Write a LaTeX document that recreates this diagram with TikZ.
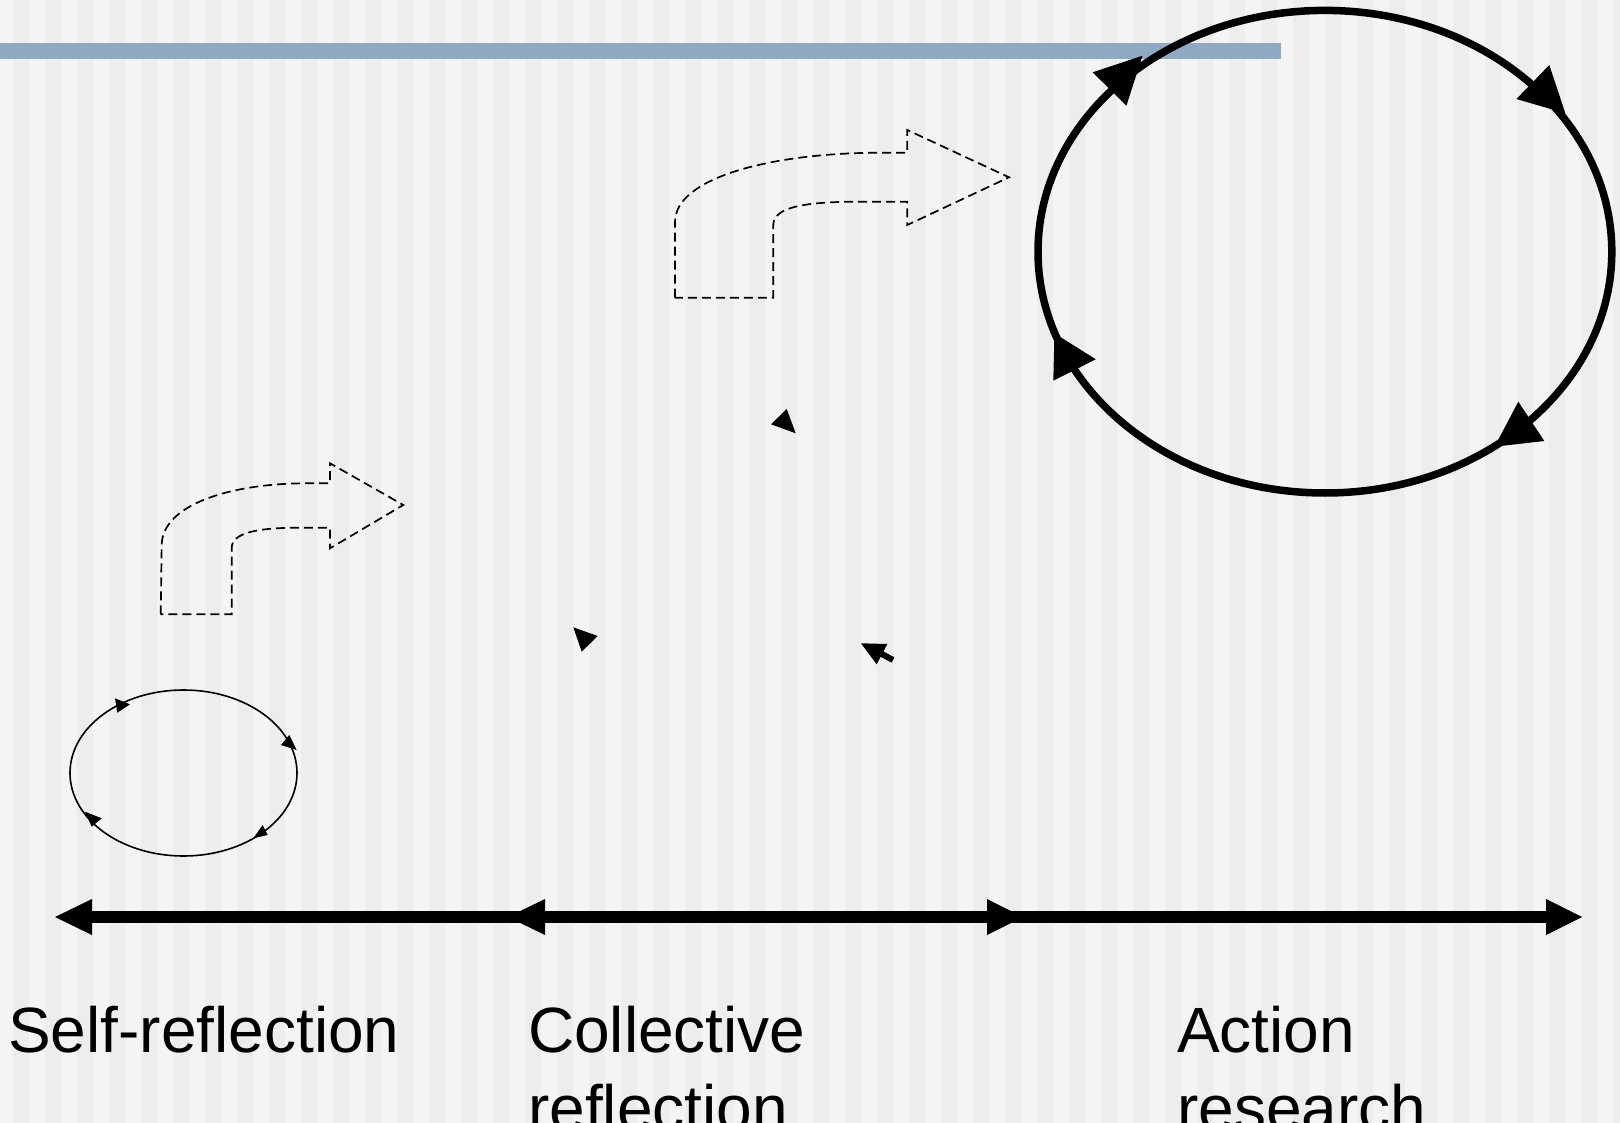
\documentclass[tikz,border=0pt]{standalone}
\usepackage{fontspec}
\setmainfont{Liberation Sans}
\definecolor{bglight}{HTML}{F4F4F4}
\definecolor{bgdark}{HTML}{EDEDED}
\definecolor{barblue}{HTML}{8FA9C3}
\tikzset{
  lbl/.style={inner sep=0pt, font=\fontsize{64}{78}\selectfont, align=left, anchor=base west},
  dasharrow/.style={draw=black, line width=1.7pt, dash pattern=on 9pt off 5pt, line join=miter},
  head/.style={fill=black},
  bigloop/.style={draw=black, line width=7.5pt},
  smallloop/.style={draw=black, line width=1.6pt},
  axis/.style={draw=black, line width=11.7pt}
}
\begin{document}
\begin{tikzpicture}[x=1pt, y=-1pt]
\useasboundingbox (0,0) rectangle (1620,1123);
\clip (0,0) rectangle (1620,1123);
% background stripes
\fill[bglight] (0,0) rectangle (1620,1123);
\foreach \i in {0,...,50} { \fill[bgdark] (13+32*\i,0) rectangle ++(16,1123); }
% blue bar
\fill[barblue] (0,43) rectangle (1281,59);

% big cycle
\draw[bigloop] (1324.9,251.7) ellipse [x radius=286.9, y radius=241.3];
\fill[head] (1142.5,55.7) -- (1092.7,72.3) -- (1126.4,105.7) -- cycle;
\fill[head] (1565.3,113.3) -- (1516.4,99) -- (1549.3,65) -- cycle;
\fill[head] (1494.6,446.7) -- (1518.3,401.7) -- (1544.3,441) -- cycle;
\fill[head] (1054.4,333.3) -- (1053.3,380.7) -- (1095.8,359.3) -- cycle;

% small cycle
\draw[smallloop] (183.5,773) ellipse [x radius=113.5, y radius=83];
\fill[head] (130,704.3) -- (115,698.3) -- (117.3,712.7) -- cycle;
\fill[head] (296.7,750) -- (281,745) -- (289.3,735) -- cycle;
\fill[head] (253.3,838.3) -- (267.7,835) -- (262.7,825) -- cycle;
\fill[head] (85,811.7) -- (101.7,818.3) -- (91.7,826.7) -- cycle;

% stray arrowheads
\fill[head] (771,424.3) -- (786.7,409) -- (795.7,433.3) -- cycle;
\fill[head] (573.3,627.3) -- (597.7,636) -- (581.7,651.7) -- cycle;
\fill[head] (861,643.3) -- (887.3,644) -- (876.7,664.3) -- cycle;
\draw[black, line width=6pt] (880,653) -- (893,660);

% dashed bent arrows
\draw[dasharrow] (160.7,614.3) -- (161.7,545) .. controls (162,505) and (230,483.3) .. (306.7,483.3)
  -- (330,483.3) -- (330,463.3) -- (403.3,505) -- (330,548.3) -- (330,527.7) -- (300,527.7)
  .. controls (260,527.7) and (231.7,532) .. (231.7,548) -- (231.7,614.3) -- cycle;
\draw[dasharrow] (675,297.7) -- (675,222) .. controls (675,178) and (770,153) .. (880,152.7)
  -- (907.3,152.7) -- (907.3,130) -- (1009,177.3) -- (907.3,225) -- (907.3,201.7) -- (860,201.7)
  .. controls (805,201.7) and (773.3,207) .. (773.3,225) -- (773.3,297.7) -- cycle;

% axis
\coordinate (axL) at (85,917);
\coordinate (axR) at (1555,917);
\draw[axis] (axL) -- (axR);
\fill[head] (55,917) -- (92,899) -- (92,935) -- cycle;
\fill[head] (508,917) -- (545,899) -- (545,935) -- cycle;
\fill[head] (1023,917) -- (987,899) -- (987,935) -- cycle;
\fill[head] (1582,917) -- (1546,899) -- (1546,935) -- cycle;

% labels
\node[lbl] (self) at (8,1052) {Self-reflection};
\node[lbl] (coll) at (528,1130) {Collective\\reflection};
\node[lbl] (act) at (1177,1130) {Action\\research};
\end{tikzpicture}
\end{document}
